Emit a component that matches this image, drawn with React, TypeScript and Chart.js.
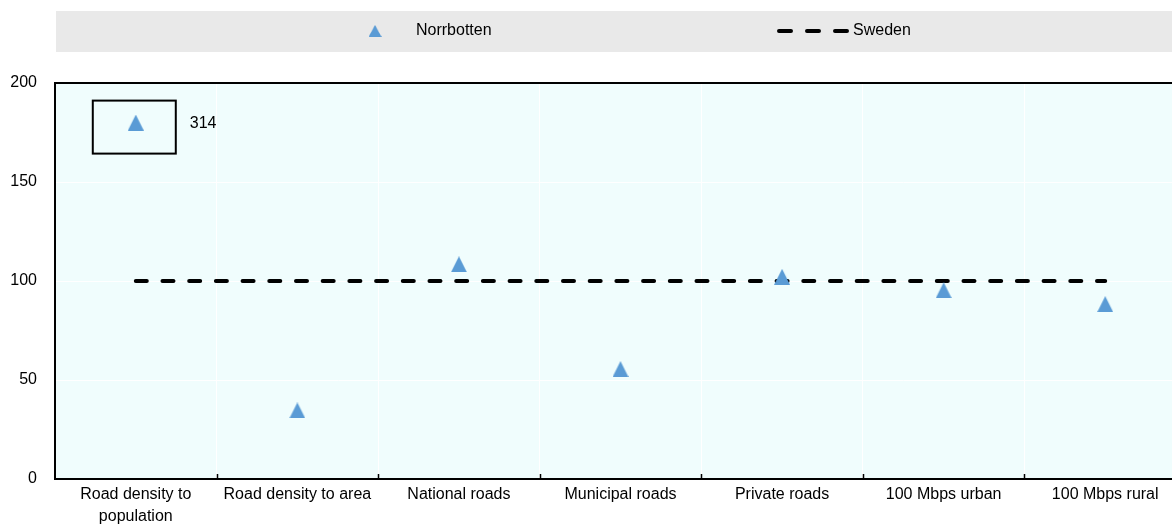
import React, { useEffect, useRef } from "react";
import { Chart, registerables } from "chart.js";

Chart.register(...registerables);

// ---- Data ----
const categories: (string | string[])[] = [
  ["Road density to", "population"],
  "Road density to area",
  "National roads",
  "Municipal roads",
  "Private roads",
  "100 Mbps urban",
  "100 Mbps rural",
];
const norrbotten: number[] = [314, 34.6, 108.4, 55.5, 102.1, 95.3, 88.3];
const sweden: number[] = [100, 100, 100, 100, 100, 100, 100];
const yTickValues: number[] = [0, 50, 100, 150, 200];
const Y_MIN = 0;
const Y_MAX = 200;
const OFF_SCALE_POSITION = 180; // where out-of-range values are plotted (boxed)

const seriesNames = { region: "Norrbotten", country: "Sweden" };

// ---- Styles ----
const TRIANGLE_COLOR = "#5a9bd5";
const PLOT_BG = "#f0fdfd";
const LEGEND_BG = "#e9e9e9";
const W = 1195;
const H = 529;

function hasFont(name: string): boolean {
  const ctx = document.createElement("canvas").getContext("2d")!;
  ctx.font = "20px monospace";
  const a = ctx.measureText("Norrbotten 314 Mbps").width;
  ctx.font = `20px "${name}", monospace`;
  const b = ctx.measureText("Norrbotten 314 Mbps").width;
  return a !== b;
}

function makeTriangle(color: string, w: number, h: number): HTMLCanvasElement {
  const c = document.createElement("canvas");
  c.width = w;
  c.height = h;
  const ctx = c.getContext("2d")!;
  ctx.fillStyle = color;
  ctx.beginPath();
  ctx.moveTo(w / 2, 0);
  ctx.lineTo(w, h);
  ctx.lineTo(0, h);
  ctx.closePath();
  ctx.fill();
  return c;
}

export default function App() {
  const ref = useRef<HTMLCanvasElement | null>(null);

  useEffect(() => {
    if (!ref.current) return;
    const narrow = hasFont("Liberation Sans Narrow");
    const family = narrow
      ? '"Liberation Sans Narrow", "Liberation Sans", Arial, sans-serif'
      : '"Liberation Sans", Arial, sans-serif';
    const fontSize = narrow ? 19.5 : 16;
    const fontStr = `${fontSize}px ${family}`;

    const tri = makeTriangle(TRIANGLE_COLOR, 16, 16);
    const displayed = norrbotten.map((v) => (v > Y_MAX ? OFF_SCALE_POSITION : v));

    const decor = {
      id: "decor",
      beforeDraw(chart: any) {
        const { ctx, chartArea: a } = chart;
        ctx.save();
        // plot background
        ctx.fillStyle = PLOT_BG;
        ctx.fillRect(a.left, a.top, a.right - a.left, a.bottom - a.top);
        // legend background
        ctx.fillStyle = LEGEND_BG;
        ctx.fillRect(56, 11, W - 56, 41);
        // legend item 1
        ctx.drawImage(tri, 375 - 6.5, 31 - 6, 13, 12);
        ctx.fillStyle = "#000";
        ctx.font = fontStr;
        ctx.textBaseline = "middle";
        ctx.textAlign = "left";
        ctx.fillText(seriesNames.region, 416, 31);
        // legend item 2
        ctx.strokeStyle = "#000";
        ctx.lineWidth = 4;
        ctx.lineCap = "round";
        ctx.setLineDash([12, 16]);
        ctx.beginPath();
        ctx.moveTo(779, 31);
        ctx.lineTo(847, 31);
        ctx.stroke();
        ctx.setLineDash([]);
        ctx.fillText(seriesNames.country, 853, 31);
        ctx.restore();
      },
      afterDraw(chart: any) {
        const { ctx, chartArea: a } = chart;
        ctx.save();
        // top border
        ctx.strokeStyle = "#000";
        ctx.lineWidth = 2;
        ctx.beginPath();
        ctx.moveTo(a.left - 1, a.top);
        ctx.lineTo(a.right, a.top);
        ctx.stroke();
        // inner tick marks at category boundaries
        ctx.lineWidth = 1.5;
        const n = categories.length;
        const step = (a.right - a.left) / n;
        for (let i = 1; i < n; i++) {
          const x = Math.round(a.left + i * step) + 0.5;
          ctx.beginPath();
          ctx.moveTo(x, a.bottom);
          ctx.lineTo(x, a.bottom - 5);
          ctx.stroke();
        }
        // boxed off-scale points
        const meta = chart.getDatasetMeta(0);
        norrbotten.forEach((v, i) => {
          if (v <= Y_MAX) return;
          const p = meta.data[i];
          ctx.lineWidth = 2;
          ctx.strokeStyle = "#000";
          ctx.strokeRect(p.x - 43, p.y - 22, 83, 53);
          ctx.fillStyle = "#000";
          ctx.font = fontStr;
          ctx.textBaseline = "middle";
          ctx.textAlign = "left";
          ctx.fillText(String(v), p.x + 54, p.y + 1);
        });
        ctx.restore();
      },
    };

    const chart = new Chart(ref.current, {
      type: "line",
      data: {
        labels: categories as any,
        datasets: [
          {
            label: seriesNames.region,
            data: displayed,
            showLine: false,
            pointStyle: tri as any,
            pointRadius: 8,
            pointHoverRadius: 8,
            backgroundColor: TRIANGLE_COLOR,
            borderColor: TRIANGLE_COLOR,
          },
          {
            label: seriesNames.country,
            data: sweden,
            borderColor: "#000",
            borderWidth: 4,
            borderDash: [11, 15.7],
            borderCapStyle: "round",
            pointRadius: 0,
            fill: false,
            tension: 0,
          },
        ],
      },
      options: {
        responsive: false,
        animation: false,
        devicePixelRatio: 1,
        layout: { padding: { top: 83, left: 0, right: 0, bottom: 0 } },
        plugins: {
          legend: { display: false },
          tooltip: { enabled: false },
        },
        scales: {
          x: {
            type: "category",
            offset: true,
            grid: { offset: true, color: "#ffffff", lineWidth: 1, drawTicks: false },
            border: { display: true, color: "#000", width: 2 },
            ticks: {
              color: "#000",
              font: { family, size: fontSize, lineHeight: 22 / fontSize },
              padding: 5,
              maxRotation: 0,
              minRotation: 0,
              autoSkip: false,
            },
            afterFit: (s: any) => {
              s.height = 50;
            },
          },
          y: {
            min: Y_MIN,
            max: Y_MAX,
            afterBuildTicks: (s: any) => {
              s.ticks = yTickValues.map((v) => ({ value: v }));
            },
            grid: { color: "#ffffff", lineWidth: 1, drawTicks: false },
            border: { display: true, color: "#000", width: 2 },
            ticks: {
              color: "#000",
              font: { family, size: fontSize },
              padding: 18,
            },
            afterFit: (s: any) => {
              s.width = 55;
            },
          },
        },
      },
      plugins: [decor],
    });
    return () => chart.destroy();
  }, []);

  return (
    <div
      style={{
        position: "fixed",
        left: 0,
        top: 0,
        width: 1172,
        height: H,
        overflow: "hidden",
        background: "#fff",
      }}
    >
      <canvas ref={ref} width={W} height={H} style={{ width: W, height: H, display: "block" }} />
    </div>
  );
}
